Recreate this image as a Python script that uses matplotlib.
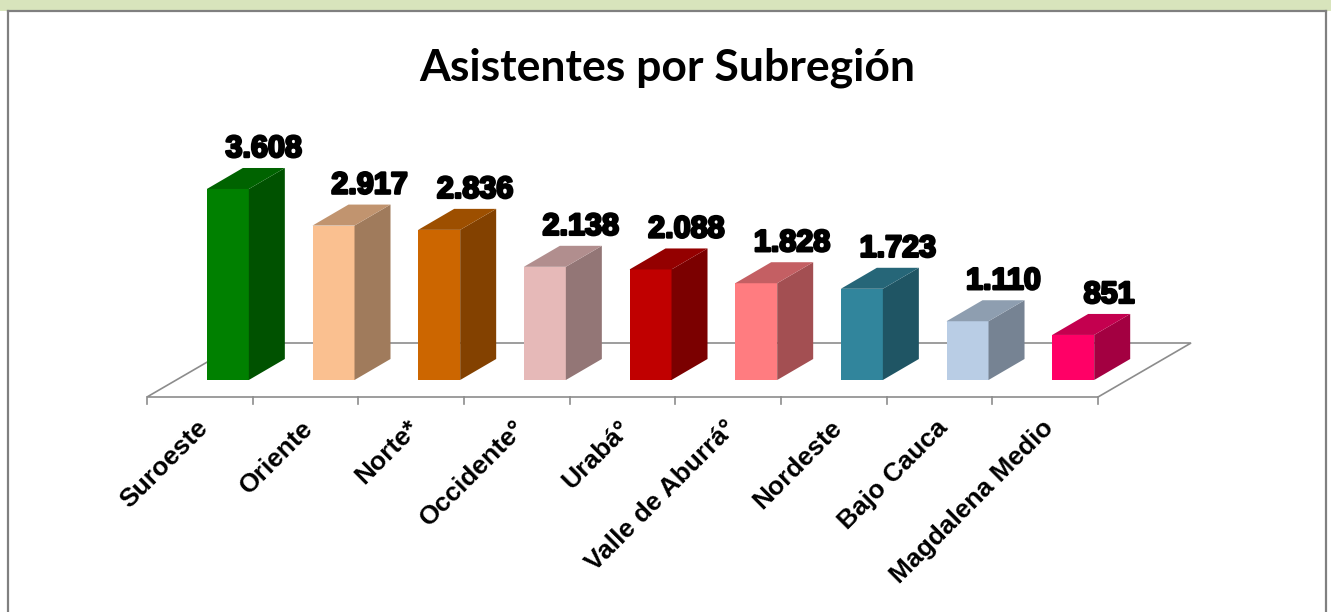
import matplotlib.pyplot as plt
import matplotlib.patheffects as pe
from matplotlib.colors import to_rgb
from matplotlib.lines import Line2D
from matplotlib.patches import Polygon, Rectangle

subregions = [
    "Suroeste", "Oriente", "Norte*", "Occidente°", "Urabá°",
    "Valle de Aburrá°", "Nordeste", "Bajo Cauca", "Magdalena Medio",
]
asistentes = [3608, 2917, 2836, 2138, 2088, 1828, 1723, 1110, 851]
value_labels = ["3.608", "2.917", "2.836", "2.138", "2.088", "1.828", "1.723", "1.110", "851"]
front_colors = [
    "#008000", "#FAC090", "#CC6600", "#E6B9B8", "#C00000",
    "#FF7C80", "#31859C", "#B9CDE5", "#FF0066",
]

W, H = 1331, 612
DPI = 100

# pixel scale of the drawing (axes covers the whole figure)
PX_X = 105.67          # px per category slot
PX_Y = 0.05294         # px per attendee
BASE_PX = 380          # pixel row of bar bottoms (from top)
LEFT_PX = 147          # pixel column of floor front-left corner


def dx(px):
    return px / PX_X


def dy(px):
    return px / PX_Y


def shade(color, f):
    r, g, b = to_rgb(color)
    return (r * f, g * f, b * f)


fig = plt.figure(figsize=(W / DPI, H / DPI), dpi=DPI)
ax = fig.add_axes([0, 0, 1, 1])
ax.set_xlim(-0.5 - dx(LEFT_PX), -0.5 + dx(W - LEFT_PX))
ax.set_ylim(-dy(H - BASE_PX), dy(BASE_PX))
ax.axis("off")

# frame and green band
fig.patches.append(Rectangle((0, 1 - 11 / H), 1, 11 / H, transform=fig.transFigure,
                             facecolor="#D8E4BC", edgecolor="none", zorder=0))
frame_kw = dict(transform=fig.transFigure, color="#808080", linewidth=1.6)
fig.lines.append(Line2D([8 / W, 8 / W], [0, 1 - 11 / H], **frame_kw))
fig.lines.append(Line2D([8 / W, 1326 / W], [1 - 11 / H, 1 - 11 / H], **frame_kw))
fig.lines.append(Line2D([1326 / W, 1326 / W], [0, 1 - 11 / H], **frame_kw))

n = len(subregions)
floor_y = -dy(17)
floor_dx, floor_dy = dx(93), dy(54)
floor = Polygon(
    [(-0.5, floor_y), (n - 0.5, floor_y),
     (n - 0.5 + floor_dx, floor_y + floor_dy), (-0.5 + floor_dx, floor_y + floor_dy)],
    closed=True, facecolor="white", edgecolor="#8C8C8C", linewidth=1.2, zorder=1,
)
ax.add_patch(floor)
for k in range(n + 1):
    ax.plot([k - 0.5, k - 0.5], [floor_y, floor_y - dy(7)], color="#8C8C8C",
            linewidth=1.2, zorder=1)

bar_w = dx(42)
bar_dx, bar_dy = dx(36), dy(21)
shift = dx(28)

for i, (val, col, lab) in enumerate(zip(asistentes, front_colors, value_labels)):
    x0 = i - bar_w / 2 + shift
    x1 = x0 + bar_w
    front = Polygon([(x0, 0), (x1, 0), (x1, val), (x0, val)],
                    facecolor=col, edgecolor="none", zorder=3)
    side = Polygon([(x1, 0), (x1 + bar_dx, bar_dy), (x1 + bar_dx, val + bar_dy), (x1, val)],
                   facecolor=shade(col, 0.64), edgecolor="none", zorder=3)
    top = Polygon([(x0, val), (x1, val), (x1 + bar_dx, val + bar_dy), (x0 + bar_dx, val + bar_dy)],
                  facecolor=shade(col, 0.77), edgecolor="none", zorder=3)
    for p in (front, side, top):
        ax.add_patch(p)

    ax.text(x0 + bar_w / 2 + bar_dx, val + bar_dy + dy(11), lab,
            ha="center", va="baseline", fontsize=22, fontweight="bold",
            family="Liberation Sans", color="black", zorder=5,
            path_effects=[pe.withStroke(linewidth=1.8, foreground="black")])

    ax.text(i - 0.04, -dy(416 - BASE_PX), subregions[i], rotation=45, rotation_mode="anchor",
            ha="right", va="top", fontsize=19, fontweight="bold",
            family="Liberation Sans", color="black")

fig.text(667 / W, 1 - 80 / H, "Asistentes por Subregión", ha="center", va="baseline",
         fontsize=32, fontweight="bold", family="Lato")

fig.savefig("out.png", dpi=DPI)
